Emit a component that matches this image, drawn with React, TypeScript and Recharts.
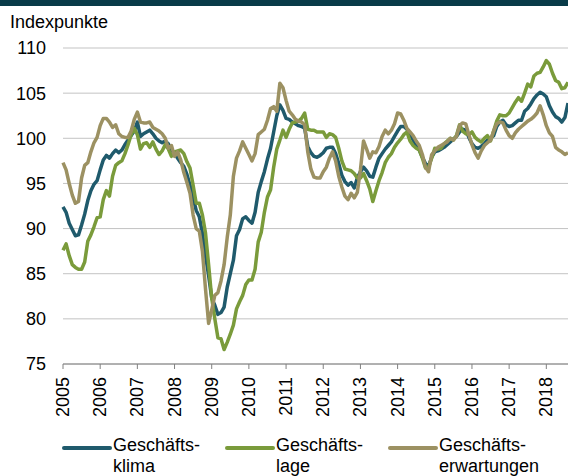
import React from 'react';
import { LineChart, Line, XAxis, YAxis, CartesianGrid, Legend } from 'recharts';

// monthly values, Jan 2005 .. Aug 2018
const klima = [
  92.4, 91.8, 90.6, 89.9, 89.2, 89.3, 90.4, 91.6, 93.1, 94.2, 94.9, 95.3,
  96.5, 97.6, 98.1, 97.8, 98.3, 98.7, 98.4, 98.7, 99.3, 99.8, 100.3, 100.8,
  101.8, 100.2, 100.5, 100.7, 100.9, 100.5, 100.0, 99.7, 99.5, 99.7, 99.4, 98.7,
  98.3, 97.8, 97.3, 96.9, 96.0, 94.8, 93.4, 92.0, 91.3, 89.5, 87.0, 84.8,
  82.3, 81.5, 80.5, 80.7, 81.3, 83.5, 85.0, 86.5, 89.2, 89.9, 91.1, 91.3,
  90.9, 90.6, 91.8, 94.0, 95.2, 96.3, 97.7, 98.9, 100.7, 102.5, 103.7, 103.1,
  102.2, 102.1, 101.8, 101.6, 101.4, 101.3, 101.1, 99.1, 98.4, 98.0, 97.9, 98.1,
  98.4, 98.9, 99.0, 99.0, 98.3, 97.2, 95.9, 95.2, 94.8, 95.1, 94.5, 95.6,
  96.3, 96.8, 96.4, 95.8, 95.7, 96.8, 97.8, 98.3, 98.8, 99.2, 99.6, 100.2,
  100.8, 101.3, 101.3, 101.0, 100.5, 99.8, 99.2, 98.7, 97.9, 97.2, 96.9, 97.9,
  98.5, 98.6, 98.8, 99.0, 99.3, 99.6, 99.9, 100.2, 100.7, 101.0, 100.9, 100.1,
  99.4, 99.0, 98.9, 99.1, 99.4, 99.8, 100.0, 100.3, 101.3, 101.8, 102.0, 101.5,
  101.3, 101.4, 101.7, 102.0, 102.0, 103.0, 103.3, 103.8, 104.4, 104.8, 105.1, 104.9,
  104.6, 103.6, 102.9, 102.4, 102.2, 101.8, 102.3, 103.9,
];

const lage = [
  87.6, 88.3, 87.0, 86.0, 85.7, 85.5, 85.5, 86.3, 88.6, 89.3, 90.2, 91.2,
  91.3, 93.2, 94.2, 93.6, 95.8, 97.0, 97.3, 97.5, 98.3, 99.3, 100.4, 101.1,
  100.4, 98.8, 99.4, 99.5, 99.0, 99.6, 98.8, 98.2, 98.6, 99.3, 98.8, 98.0,
  98.5, 98.6, 98.7, 98.3, 97.4, 96.7, 94.8, 92.8, 92.8, 91.5, 89.5, 86.0,
  82.3, 80.0, 77.9, 77.8, 76.6, 77.4, 78.3, 79.3, 81.1, 81.9, 82.6, 83.8,
  84.3, 84.3, 85.5, 88.5, 89.6, 91.8, 93.5, 94.3, 96.8, 98.8, 99.8, 100.9,
  100.1, 101.0, 101.7, 101.8, 101.9, 102.2, 102.8, 101.0, 100.9, 100.9, 100.7, 100.7,
  100.7, 100.1, 100.5, 100.4, 100.1, 98.9, 97.5, 96.6, 96.5, 96.4, 96.1, 95.6,
  95.6, 96.1, 95.3, 94.4, 93.0, 94.2, 95.3, 96.2, 97.3, 97.9, 98.3, 99.0,
  99.5, 99.9, 100.4, 100.7, 99.7, 99.2, 98.9, 98.7, 97.8, 96.7, 96.8, 97.8,
  98.9, 98.8, 98.9, 99.4, 99.7, 100.0, 99.8, 100.3, 101.5, 100.8, 100.5, 100.4,
  100.7, 100.1, 99.8, 99.6, 100.0, 100.3, 99.7, 100.8, 101.9, 102.6, 102.5, 102.5,
  102.8, 103.4, 104.0, 104.5, 104.1, 105.0, 106.0, 105.7, 106.9, 107.2, 107.3, 107.9,
  108.6, 108.2, 107.2, 106.4, 106.2, 105.5, 105.6, 106.2,
];

const erwartungen = [
  97.3, 96.5, 95.0, 93.7, 92.8, 93.0, 95.6, 97.0, 97.3, 98.5, 99.5, 100.1,
  101.4, 102.2, 102.2, 101.8, 101.2, 101.5, 100.5, 100.2, 100.1, 100.1, 100.8, 102.1,
  102.9, 101.8, 101.7, 101.7, 101.8, 101.2, 101.0, 100.8, 100.5, 100.0, 98.9, 99.2,
  98.0, 98.5, 97.6, 96.2, 95.1, 93.9, 91.5, 90.0, 89.7, 87.5, 83.3, 79.5,
  81.0, 82.6, 82.9, 84.2, 86.0, 89.0, 91.5, 95.8, 97.8, 98.6, 99.6, 98.9,
  98.2, 97.5, 98.3, 100.4, 100.7, 101.0, 102.0, 103.3, 103.5, 103.0, 106.1, 105.6,
  104.2, 103.0, 102.6, 102.1, 101.9, 101.8, 101.5, 98.5, 96.6, 95.7, 95.6, 95.6,
  96.3, 96.8, 97.8, 98.5, 97.5, 95.8, 94.6, 93.6, 93.2, 93.9, 93.4, 94.0,
  96.5, 99.7, 98.8, 97.8, 98.5, 98.4, 99.1, 100.2, 100.9, 100.5, 100.9, 101.6,
  102.8, 102.7, 102.0, 101.1, 100.7, 100.3, 99.7, 99.2, 98.2, 96.8, 96.3, 98.2,
  98.6, 99.0, 99.2, 99.4, 99.6, 100.0, 99.8, 100.2, 101.4, 101.7, 101.6, 100.4,
  99.3, 98.4, 97.8, 98.6, 99.2, 99.5, 99.8, 100.8, 101.6, 101.8, 101.7, 100.9,
  100.3, 100.0, 100.6, 101.0, 101.3, 101.6, 101.9, 102.1, 102.4, 102.8, 103.6, 102.6,
  101.4, 100.6, 100.2, 99.0, 98.7, 98.5, 98.2, 98.4,
];

const years = ['2005', '2006', '2007', '2008', '2009', '2010', '2011', '2012', '2013', '2014', '2015', '2016', '2017', '2018'];
const yTicks = [75, 80, 85, 90, 95, 100, 105, 110];

const seriesNames = [
  { key: 'klima', top: 'Geschäfts-', bottom: 'klima', color: '#1f5a6c' },
  { key: 'lage', top: 'Geschäfts-', bottom: 'lage', color: '#7a9b3b' },
  { key: 'erwartungen', top: 'Geschäfts-', bottom: 'erwartungen', color: '#9c9162' },
];

const data = klima.map((v, i) => ({ m: i, klima: v, lage: lage[i], erwartungen: erwartungen[i] }));
const xTicks = years.map((_, i) => i * 12);

const FONT = '"Liberation Sans", Arial, sans-serif';

const YearTick = (props: any) => {
  const { x, y, payload } = props;
  const label = years[Math.round(payload.value / 12)];
  return (
    <text
      x={x}
      y={y}
      transform={`rotate(-90, ${x}, ${y})`}
      textAnchor="end"
      dominantBaseline="central"
      fontSize={18}
      fontFamily={FONT}
      fill="#000"
    >
      {label}
    </text>
  );
};

const legendLeft = [62, 225, 388];

const LegendContent = () => (
  <div style={{ position: 'relative', width: 568, height: 40, fontFamily: FONT, fontSize: 18, color: '#000' }}>
    {seriesNames.map((s, i) => (
      <div key={s.key} style={{ position: 'absolute', left: legendLeft[i], top: 0 }}>
        <div style={{ position: 'absolute', left: 0, top: 10, width: 50, height: 4, borderRadius: 2, background: s.color }} />
        <div style={{ position: 'absolute', left: 51, top: -1, lineHeight: '21px', whiteSpace: 'nowrap' }}>
          {s.top}
          <br />
          {s.bottom}
        </div>
      </div>
    ))}
  </div>
);

export default function App() {
  return (
    <div style={{ position: 'absolute', left: 0, top: 0, width: 568, height: 476, overflow: 'hidden', background: '#fff' }}>
      <div style={{ position: 'absolute', left: 0, top: 0, width: 568, height: 6, background: '#083b48' }} />
      <div style={{ position: 'absolute', left: 10, top: 12, fontFamily: FONT, fontSize: 18, lineHeight: '20px' }}>
        Indexpunkte
      </div>
      <LineChart width={568} height={476} data={data} margin={{ top: 48, right: 0, bottom: 52, left: 0 }}>
        <CartesianGrid vertical={false} stroke="#c3c3c3" strokeWidth={1} />
        <XAxis
          dataKey="m"
          type="number"
          domain={[0, 163]}
          ticks={xTicks}
          interval={0}
          height={60}
          axisLine={{ stroke: '#808080' }}
          tickLine={{ stroke: '#808080' }}
          tickSize={5}
          tickMargin={8}
          tick={<YearTick />}
        />
        <YAxis
          domain={[75, 110]}
          ticks={yTicks}
          width={63}
          axisLine={false}
          tickLine={false}
          tickSize={0}
          tickMargin={17}
          tick={{ fontSize: 18, fill: '#000', fontFamily: FONT }}
        />
        <Legend
          layout="horizontal"
          verticalAlign="middle"
          align="center"
          wrapperStyle={{ left: 0, top: 436, width: 568, height: 40 }}
          content={<LegendContent />}
        />
        {seriesNames.map((s) => (
          <Line
            key={s.key}
            type="linear"
            dataKey={s.key}
            stroke={s.color}
            strokeWidth={3.5}
            strokeLinejoin="round"
            dot={false}
            activeDot={false}
            isAnimationActive={false}
          />
        ))}
      </LineChart>
    </div>
  );
}
